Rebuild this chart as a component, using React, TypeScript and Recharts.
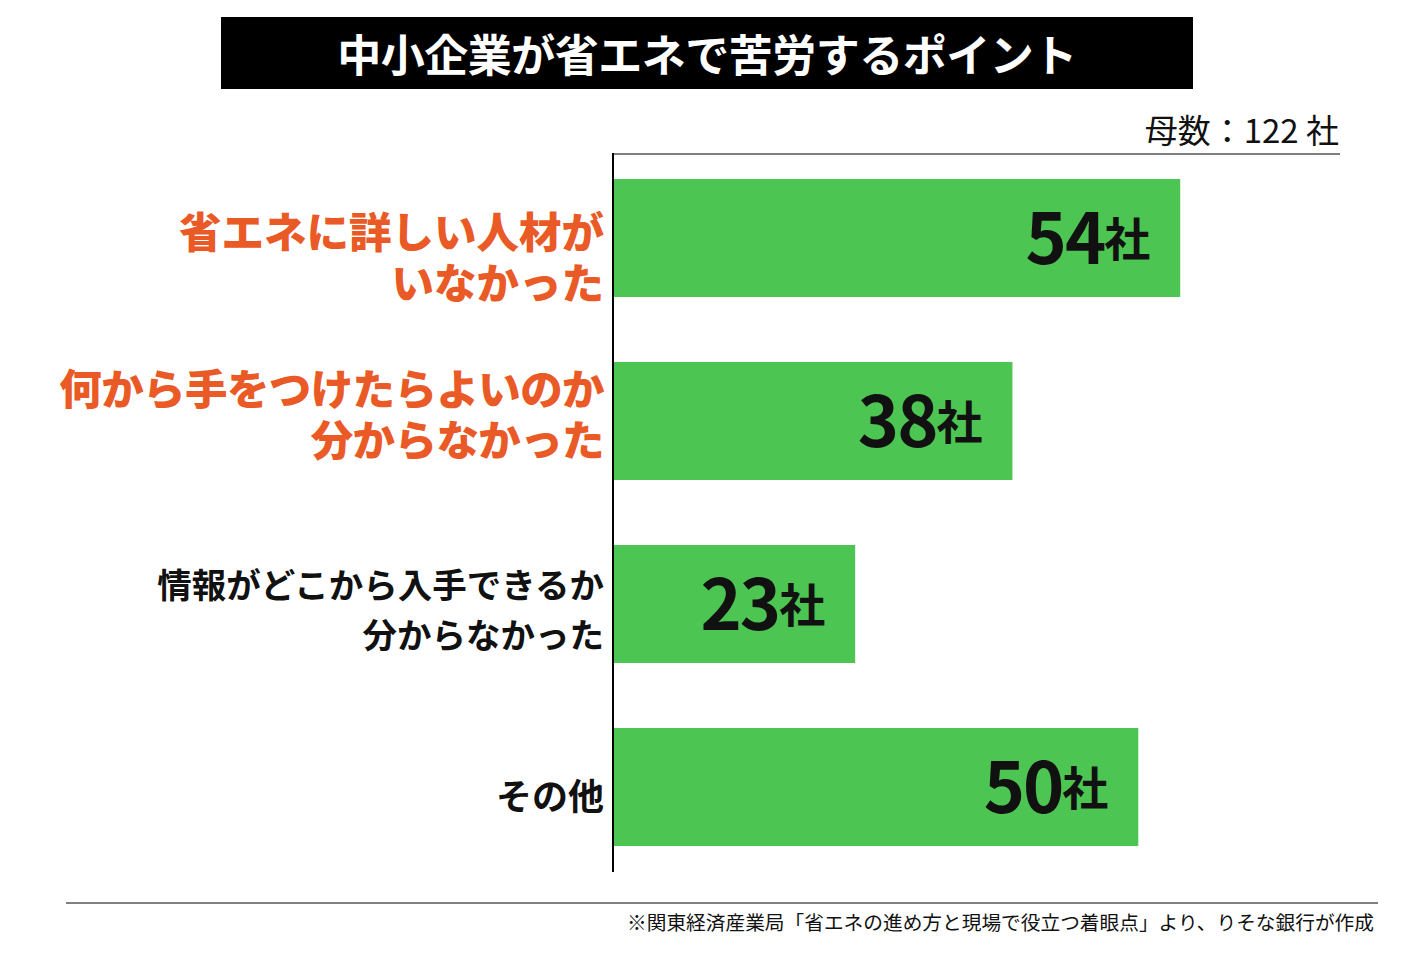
import React from 'react';
import { BarChart, Bar, XAxis, YAxis, LabelList } from 'recharts';

// chart texts
const chartTitle = '中小企業が省エネで苦労するポイント';
const sampleNote = '母数：122 社';
const sourceNote = '※関東経済産業局「省エネの進め方と現場で役立つ着眼点」より、りそな銀行が作成';
const unitLabel = '社';

// categories (each entry = lines of the label)
const categoryLines: string[][] = [
    ['省エネに詳しい人材が', 'いなかった'],
    ['何から手をつけたらよいのか', '分からなかった'],
    ['情報がどこから入手できるか', '分からなかった'],
    ['その他'],
];

// number of companies
const companyCounts: number[] = [54, 38, 23, 50];

// label styling per category (kept apart from the data)
const ORANGE = '#ea5a26';
const GREEN = '#4dc552';
const labelStyles = [
    { color: ORANGE, size: 42.5, weight: 900, spacing: 0, lineOffsets: [-9, 42] },
    { color: ORANGE, size: 42.5, weight: 900, spacing: -0.6, lineOffsets: [-35, 16] },
    { color: '#111', size: 34.5, weight: 700, spacing: 0, lineOffsets: [-21, 29] },
    { color: '#111', size: 36, weight: 700, spacing: 0, lineOffsets: [7] },
];

const LABEL_RIGHT = 604; // right edge of the category labels

const data = categoryLines.map((lines, i) => ({ name: lines.join(''), value: companyCounts[i] }));

const CategoryTick: React.FC<any> = ({ y, index }) => {
    const lines = categoryLines[index];
    const st = labelStyles[index];
    return (
        <text
            textAnchor="end"
            dominantBaseline="central"
            fill={st.color}
            fontSize={st.size}
            fontWeight={st.weight}
            letterSpacing={st.spacing}
            fontFamily='"Noto Sans CJK JP", sans-serif'
        >
            {lines.map((line, i) => (
                <tspan key={i} x={LABEL_RIGHT} y={y + st.lineOffsets[i]}>
                    {line}
                </tspan>
            ))}
        </text>
    );
};

// "54社" style label inside the bar, right aligned
const ValueLabel: React.FC<any> = ({ x, y, width, height, value }) => {
    const cy = y + height / 2;
    return (
        <text
            x={x + width - 30}
            y={cy + 26}
            textAnchor="end"
            fill="#111"
            fontWeight={700}
            fontFamily='"Noto Sans CJK JP", sans-serif'
        >
            <tspan fontSize={70} letterSpacing={-2}>{value}</tspan>
            <tspan fontSize={46} dy={-8}>{unitLabel}</tspan>
        </text>
    );
};

const App: React.FC = () => {
    return (
        <div
            style={{
                position: 'absolute',
                left: 0,
                top: 0,
                width: 1414,
                height: 968,
                background: '#fff',
                fontFamily: '"Noto Sans CJK JP", sans-serif',
            }}
        >
            {/* title box */}
            <div
                style={{
                    position: 'absolute',
                    left: 221,
                    top: 17,
                    width: 972,
                    height: 72,
                    background: '#000',
                    color: '#fff',
                    fontSize: 44,
                    fontWeight: 700,
                    textAlign: 'center',
                    lineHeight: '72px',
                    letterSpacing: -0.5,
                }}
            >
                {chartTitle}
            </div>

            {/* sample size */}
            <div
                style={{
                    position: 'absolute',
                    right: 75,
                    top: 112,
                    fontSize: 33,
                    lineHeight: '34px',
                    color: '#111',
                    whiteSpace: 'nowrap',
                }}
            >
                {sampleNote}
            </div>

            <div style={{ position: 'absolute', left: 0, top: 0 }}>
                <BarChart
                    width={1414}
                    height={968}
                    layout="vertical"
                    data={data}
                    margin={{ top: 146, right: 66, bottom: 90, left: 0 }}
                >
                    <XAxis type="number" domain={[0, 70]} hide />
                    <YAxis
                        type="category"
                        dataKey="name"
                        width={614}
                        axisLine={false}
                        tickLine={false}
                        interval={0}
                        tick={<CategoryTick />}
                    />
                    <Bar dataKey="value" fill={GREEN} barSize={118} isAnimationActive={false}>
                        <LabelList dataKey="value" content={<ValueLabel />} />
                    </Bar>
                </BarChart>
            </div>

            {/* top rule and vertical axis */}
            <div style={{ position: 'absolute', left: 613, top: 153, width: 727, height: 2, background: '#808080' }} />
            <div style={{ position: 'absolute', left: 612, top: 153, width: 1.5, height: 719, background: '#000' }} />

            {/* footer */}
            <div style={{ position: 'absolute', left: 66, top: 902, width: 1312, height: 2, background: '#808080' }} />
            <div
                style={{
                    position: 'absolute',
                    right: 40,
                    top: 910,
                    fontSize: 19.7,
                    lineHeight: '24px',
                    color: '#111',
                    whiteSpace: 'nowrap',
                }}
            >
                {sourceNote}
            </div>
        </div>
    );
};

export default App;
